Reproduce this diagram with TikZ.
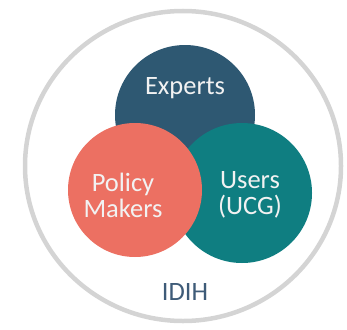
\documentclass[tikz,border=0pt]{standalone}
\usepackage{fontspec}
\setmainfont{Carlito}
\definecolor{expertc}{HTML}{2E5872}
\definecolor{policyc}{HTML}{EC7062}
\definecolor{userc}{HTML}{0F7E81}
\definecolor{ringc}{HTML}{D4D4D4}
\definecolor{idihc}{HTML}{3E5B78}
\begin{document}
\begin{tikzpicture}[x=1pt,y=-1pt,
  blob/.style={circle,inner sep=0pt,minimum size=#1},
  lbl/.style={text=white!95!black,font=\fontsize{26.5}{26}\selectfont,align=center}]
\useasboundingbox (0,0) rectangle (347,329);
\draw[ringc,line width=4.5pt] (183,166) ellipse [x radius=158, y radius=155];
\node[blob=140pt,fill=expertc] (experts) at (185,115) {};
\node[blob=140pt,fill=userc] (users) at (242,193) {};
\node[blob=134pt,fill=policyc] (policy) at (135,190) {};
\node[lbl] (tE) at (185,88) {Experts};
\node[lbl] (tP) at (123,195) {Policy\\Makers};
\node[lbl] (tU) at (250,195) {Users\\(UCG)};
\node[text=idihc,font=\fontsize{26.5}{26}\selectfont] (idih) at (185,292) {IDIH};
\end{tikzpicture}
\end{document}
